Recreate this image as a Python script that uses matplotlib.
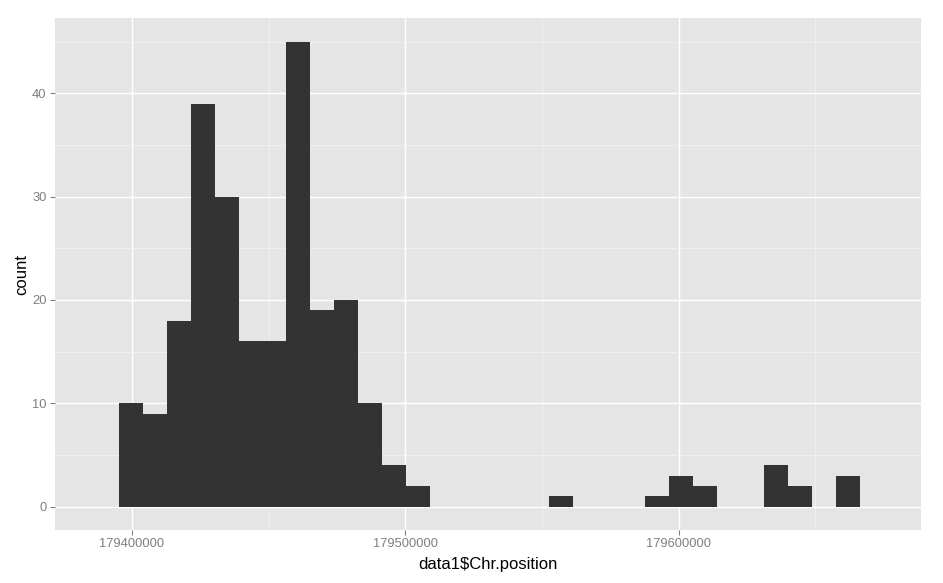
import numpy as np
import matplotlib
matplotlib.use("Agg")
import matplotlib.pyplot as plt
from matplotlib.ticker import FixedLocator

# Histogram data (31 bins, ggplot2 default-style binning)
bin_start = 179395243
bin_width = 8746
counts = [10, 9, 18, 39, 30, 16, 16, 45, 19, 20, 10, 4, 2, 0, 0, 0, 0, 0, 1,
          0, 0, 0, 1, 3, 2, 0, 0, 4, 2, 0, 3]
x_ticks = [179400000, 179500000, 179600000]
x_tick_labels = ["179400000", "179500000", "179600000"]
y_ticks = [0, 10, 20, 30, 40]
x_label = "data1$Chr.position"
y_label = "count"

plt.rcParams['font.family'] = ['Liberation Sans', 'DejaVu Sans']

fig = plt.figure(figsize=(9.43, 5.83), dpi=100)
ax = fig.add_axes([55/943, 1-530/583, (921.3-55)/943, (530-18.3)/583])
ax.set_facecolor('#E5E5E5')

lefts = bin_start + bin_width*np.arange(len(counts))
ax.bar(lefts, counts, width=bin_width, align='edge', color='#333333',
       edgecolor='none', linewidth=0, zorder=3)

ax.set_xlim(179371826, 179688806)
ax.set_ylim(-2.25, 47.25)

ax.xaxis.set_major_locator(FixedLocator(x_ticks))
ax.set_xticklabels(x_tick_labels)
ax.xaxis.set_minor_locator(FixedLocator([179350000, 179450000, 179550000, 179650000]))
ax.yaxis.set_major_locator(FixedLocator(y_ticks))
ax.yaxis.set_minor_locator(FixedLocator([5, 15, 25, 35, 45]))

ax.grid(which='major', color='white', linewidth=1.0, zorder=1)
ax.grid(which='minor', color='#F2F2F2', linewidth=0.6, zorder=1)
ax.set_axisbelow(True)

for s in ax.spines.values():
    s.set_visible(False)

ax.tick_params(which='major', length=3.5, width=0.8, color='#7F7F7F',
               labelcolor='#7F7F7F', labelsize=9.3, pad=2.5)
ax.tick_params(which='minor', length=0)

ax.set_xlabel(x_label, fontsize=12, color='black', labelpad=5)
ax.set_ylabel(y_label, fontsize=12, color='black', labelpad=2)

fig.savefig('out.png', dpi=100, facecolor='white')
